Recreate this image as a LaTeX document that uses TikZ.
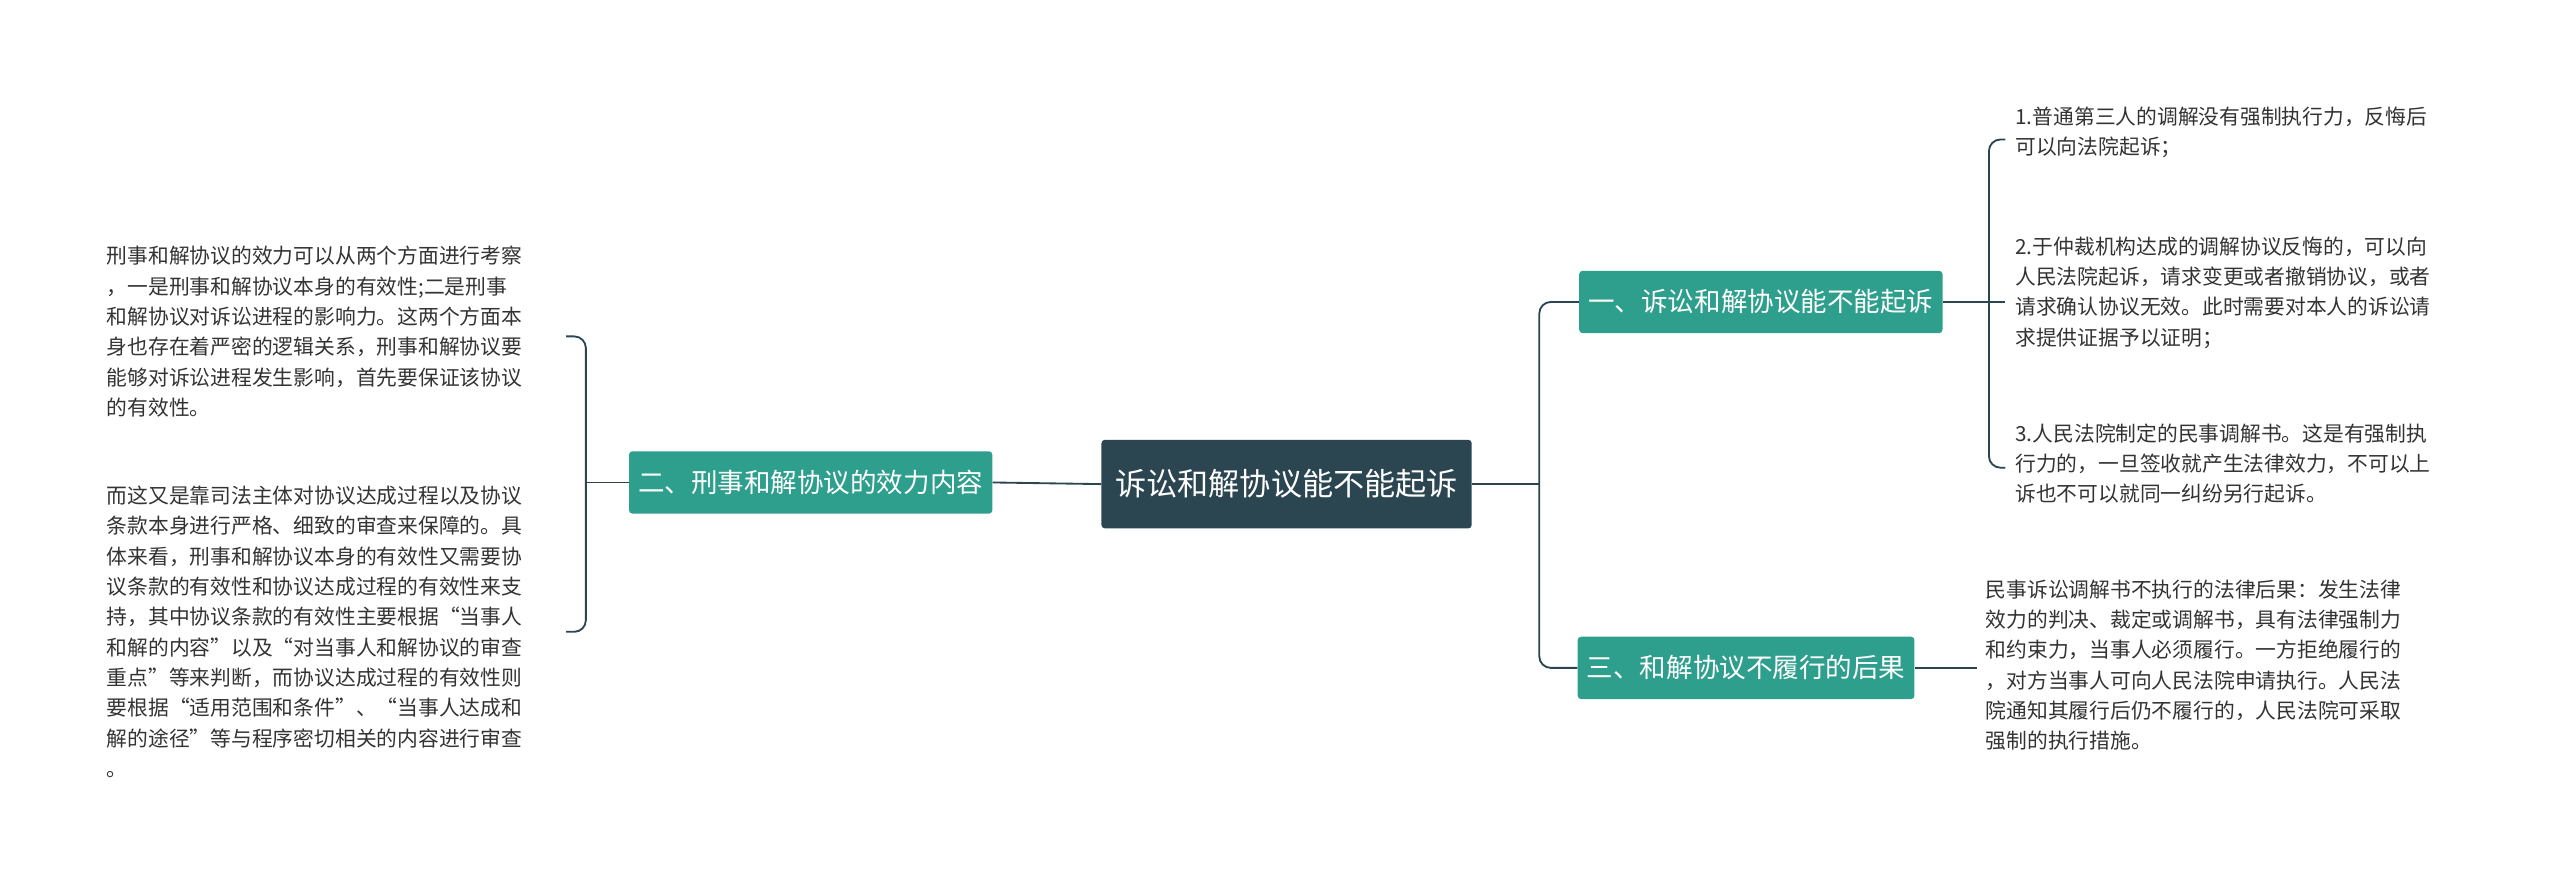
\documentclass[tikz,border=0pt]{standalone}
\usepackage{fontspec}
\setmainfont{Noto Sans CJK SC}
\begin{document}
\begin{tikzpicture}[x=0.05cm,y=-0.05cm,
  main/.style={fill=cdark,rounded corners=3pt,text=white,font=\fontsize{27}{32}\selectfont,minimum height=54*0.05cm,inner xsep=12pt},
  sub/.style={fill=cteal,rounded corners=3pt,text=white,font=\fontsize{23}{28}\selectfont,minimum height=38*0.05cm,inner xsep=8pt},
  txt/.style={text=ctext,font=\fontsize{18}{26.3}\selectfont,align=left,inner sep=0pt,anchor=north west},
  link/.style={draw=cdark,line width=1.6pt,rounded corners=10pt}]
\definecolor{cdark}{HTML}{2B4651}
\definecolor{cteal}{HTML}{2E9E8D}
\definecolor{ctext}{HTML}{333333}
\useasboundingbox (0,0) rectangle (1560,537);
\node[main] (c) at (784,295) {诉讼和解协议能不能起诉};
\node[sub] (l) at (494,294) {二、刑事和解协议的效力内容};
\node[sub] (r1) at (1073,184) {一、诉讼和解协议能不能起诉};
\node[sub] (r2) at (1064,407) {三、和解协议不履行的后果};
\node[txt] (t1) at (65,150) {刑事和解协议的效力可以从两个方面进行考察\\，一是刑事和解协议本身的有效性;二是刑事\\和解协议对诉讼进程的影响力。这两个方面本\\身也存在着严密的逻辑关系，刑事和解协议要\\能够对诉讼进程发生影响，首先要保证该协议\\的有效性。};
\node[txt] (t2) at (65,296) {而这又是靠司法主体对协议达成过程以及协议\\条款本身进行严格、细致的审查来保障的。具\\体来看，刑事和解协议本身的有效性又需要协\\议条款的有效性和协议达成过程的有效性来支\\持，其中协议条款的有效性主要根据“当事人\\和解的内容”以及“对当事人和解协议的审查\\重点”等来判断，而协议达成过程的有效性则\\要根据“适用范围和条件”、“当事人达成和\\解的途径”等与程序密切相关的内容进行审查\\。};
\node[txt] (t3) at (1228,65) {1.普通第三人的调解没有强制执行力，反悔后\\可以向法院起诉；};
\node[txt] (t4) at (1228,144) {2.于仲裁机构达成的调解协议反悔的，可以向\\人民法院起诉，请求变更或者撤销协议，或者\\请求确认协议无效。此时需要对本人的诉讼请\\求提供证据予以证明；};
\node[txt] (t5) at (1228,258) {3.人民法院制定的民事调解书。这是有强制执\\行力的，一旦签收就产生法律效力，不可以上\\诉也不可以就同一纠纷另行起诉。};
\node[txt] (t6) at (1210,353) {民事诉讼调解书不执行的法律后果：发生法律\\效力的判决、裁定或调解书，具有法律强制力\\和约束力，当事人必须履行。一方拒绝履行的\\，对方当事人可向人民法院申请执行。人民法\\院通知其履行后仍不履行的，人民法院可采取\\强制的执行措施。};
\draw[link] (c.west) -- (l.east);
\draw[link] (l.west) -- (357,294);
\draw[link] (345,205) -| (357,294) |- (345,385);
\draw[link] (c.east) -- (938,295);
\draw[link] (r1.west) -| (938,295) |- (r2.west);
\draw[link] (r1.east) -- (1212,184);
\draw[link] (1222,85) -| (1212,184) |- (1222,285);
\draw[link] (1212,184) -- (1222,184);
\draw[link] (r2.east) -- (1205,407);
\end{tikzpicture}
\end{document}
